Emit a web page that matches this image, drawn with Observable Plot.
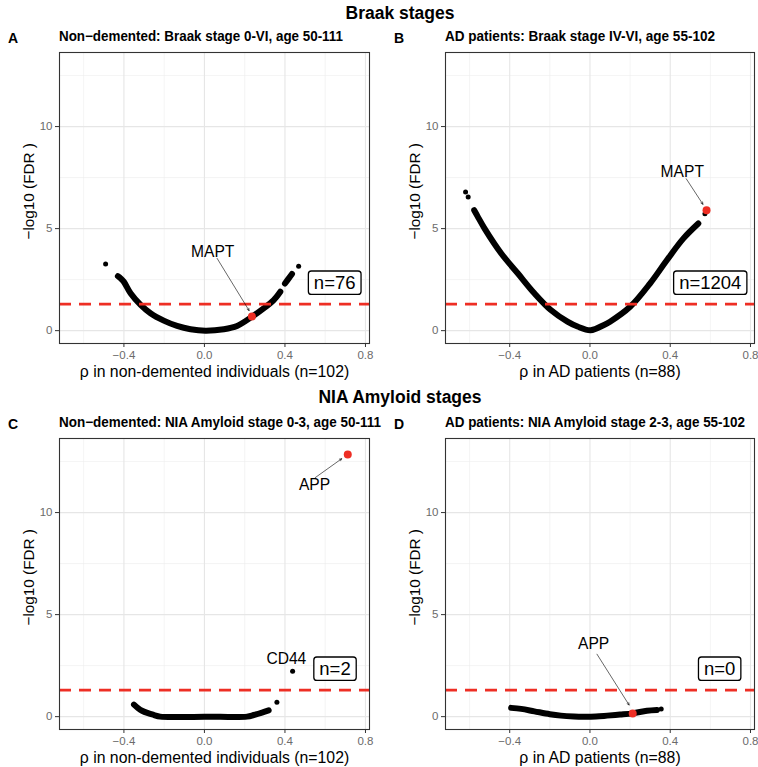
<!DOCTYPE html>
<html><head><meta charset="utf-8">
<script src="https://cdn.jsdelivr.net/npm/d3@7"></script>
<script src="https://cdn.jsdelivr.net/npm/@observablehq/plot@0.6"></script>
<style>
body{margin:0;background:#fff;}
#wrap{position:relative;width:758px;height:767px;overflow:hidden;background:#fff;}
#wrap svg{position:absolute;}
</style></head><body><div id="wrap"></div>
<script>
// ---------- shared axis values ----------
const xTicks = [-0.4, 0, 0.4, 0.8];
const xMinor = [-0.6, -0.2, 0.2, 0.6];
const yTicks = [0, 5, 10];
const yMinor = [2.5, 7.5, 12.5];
const fdrCut = [1.301];
const yTitle = "−log10 (FDR )";

// ---------- Panel A: Non-demented, Braak ----------
const aBandRho = [-0.43, -0.416, -0.40, -0.367, -0.317, -0.268, -0.202, -0.136, -0.069, 0.005, 0.096, 0.162, 0.236, 0.294, 0.344, 0.377, 0.40, 0.418, 0.435];
const aBandFdr = [2.67, 2.56, 2.39, 1.83, 1.26, 0.85, 0.49, 0.23, 0.07, 0.0, 0.07, 0.23, 0.68, 1.09, 1.50, 1.91, 2.31, 2.55, 2.78];
const aBandSeg = [1,1,1,1,1,1,1,1,1,1,1,1,1,1,1,1,2,2,2];
const aDotRho = [-0.491, 0.468];
const aDotFdr = [3.26, 3.16];
const aGene = ["MAPT"];
const aGeneRho = [0.236];
const aGeneFdr = [0.69];
const aCount = ["n=76"];

// ---------- Panel B: AD patients, Braak ----------
const bBandRho = [-0.577, -0.56, -0.525, -0.442, -0.359, -0.277, -0.195, -0.112, -0.062, 0.003, 0.07, 0.10, 0.20, 0.30, 0.383, 0.465, 0.54];
const bBandFdr = [5.90, 5.60, 5.00, 3.78, 2.80, 1.83, 1.01, 0.44, 0.20, 0.02, 0.28, 0.44, 1.17, 2.32, 3.45, 4.51, 5.25];
const bBandSeg = bBandRho.map(() => 1);
const bDotRho = [-0.620, -0.607, 0.573];
const bDotFdr = [6.79, 6.55, 5.73];
const bGene = ["MAPT"];
const bGeneRho = [0.581];
const bGeneFdr = [5.90];
const bCount = ["n=1204"];

// ---------- Panel C: Non-demented, NIA Amyloid ----------
const cBandRho = [-0.35, -0.33, -0.31, -0.28, -0.25, -0.22, 0.0, 0.212, 0.245, 0.286, 0.319];
const cBandFdr = [0.59, 0.42, 0.29, 0.17, 0.08, 0.0, 0.0, 0.0, 0.08, 0.20, 0.31];
const cBandSeg = cBandRho.map(() => 1);
const cDotRho = [0.36, 0.438];
const cDotFdr = [0.70, 2.22];
const cGene = ["APP"];
const cGeneRho = [0.712];
const cGeneFdr = [12.84];
const cCount = ["n=2"];

// ---------- Panel D: AD patients, NIA Amyloid ----------
const dBandRho = [-0.393, -0.343, -0.277, -0.20, -0.145, -0.08, -0.03, 0.03, 0.086, 0.15, 0.213, 0.284, 0.334];
const dBandFdr = [0.43, 0.38, 0.26, 0.12, 0.05, 0.01, 0.0, 0.01, 0.05, 0.10, 0.16, 0.29, 0.33];
const dBandSeg = dBandRho.map(() => 1);
const dDotRho = [0.355];
const dDotFdr = [0.38];
const dGene = ["APP"];
const dGeneRho = [0.213];
const dGeneFdr = [0.16];
const dCount = ["n=0"];

// ---------- layout / style config ----------
const RED = "#EE2E24";
const FONT = "'Liberation Sans', Arial, Helvetica, sans-serif";
const W = 379, H = 378;
const xDomain = [-0.72, 0.82], yDomain = [-0.63, 13.63];

const panels = [
  {letter:"A", left:0, top:0, mL:59, mR:10, subtitle:"Non−demented: Braak stage 0-VI, age 50-111", subW:284,
   xLabel:"ρ in non-demented individuals (n=102)",
   bandRho:aBandRho, bandFdr:aBandFdr, bandSeg:aBandSeg, dotRho:aDotRho, dotFdr:aDotFdr,
   gene:aGene, geneRho:aGeneRho, geneFdr:aGeneFdr, count:aCount,
   ann:[{t:"MAPT", tx:0.041, ty:3.86, x1:0.063, y1:3.54, x2:0.222, y2:0.98}], countX:0.778},
  {letter:"B", left:379, top:0, mL:66, mR:4, subtitle:"AD patients: Braak stage IV-VI, age 55-102", subW:270,
   xLabel:"ρ in AD patients (n=88)",
   bandRho:bBandRho, bandFdr:bBandFdr, bandSeg:bBandSeg, dotRho:bDotRho, dotFdr:bDotFdr,
   gene:bGene, geneRho:bGeneRho, geneFdr:bGeneFdr, count:bCount,
   ann:[{t:"MAPT", tx:0.46, ty:7.77, x1:0.48, y1:7.44, x2:0.563, y2:6.19}], countX:0.782},
  {letter:"C", left:0, top:386, mL:59, mR:10, subtitle:"Non−demented: NIA Amyloid stage 0-3, age 50-111", subW:322,
   xLabel:"ρ in non-demented individuals (n=102)",
   bandRho:cBandRho, bandFdr:cBandFdr, bandSeg:cBandSeg, dotRho:cDotRho, dotFdr:cDotFdr,
   gene:cGene, geneRho:cGeneRho, geneFdr:cGeneFdr, count:cCount,
   ann:[{t:"APP", tx:0.547, ty:11.34, x1:0.55, y1:11.71, x2:0.682, y2:12.64},
        {t:"CD44", tx:0.407, ty:2.82}], countX:0.754},
  {letter:"D", left:379, top:386, mL:66, mR:4, subtitle:"AD patients: NIA Amyloid stage 2-3, age 55-102", subW:300,
   xLabel:"ρ in AD patients (n=88)",
   bandRho:dBandRho, bandFdr:dBandFdr, bandSeg:dBandSeg, dotRho:dDotRho, dotFdr:dDotFdr,
   gene:dGene, geneRho:dGeneRho, geneFdr:dGeneFdr, count:dCount,
   ann:[{t:"APP", tx:0.018, ty:3.56, x1:0.035, y1:3.06, x2:0.195, y2:0.57}], countX:0.752}
];

const wrap = document.getElementById("wrap");

function makePanel(p) {
  const band = p.bandRho.map((r, i) => ({rho: r, fdr: p.bandFdr[i], seg: p.bandSeg[i]}));
  const dots = p.dotRho.map((r, i) => ({rho: r, fdr: p.dotFdr[i]}));
  const genes = p.gene.map((g, i) => ({gene: g, rho: p.geneRho[i], fdr: p.geneFdr[i]}));
  const arrows = p.ann.filter(a => a.x1 !== undefined);
  const svg = Plot.plot({
    width: W, height: H,
    marginLeft: p.mL, marginRight: p.mR, marginTop: 52, marginBottom: 35,
    style: {fontFamily: FONT, fontSize: "11.5px", background: "transparent", overflow: "visible"},
    x: {domain: xDomain},
    y: {domain: yDomain},
    marks: [
      Plot.ruleX(xMinor, {stroke: "#EDEDED", strokeWidth: 0.6}),
      Plot.ruleY(yMinor, {stroke: "#EDEDED", strokeWidth: 0.6}),
      Plot.ruleX(xTicks, {stroke: "#E6E6E6", strokeWidth: 1.1}),
      Plot.ruleY(yTicks, {stroke: "#E6E6E6", strokeWidth: 1.1}),
      Plot.line(band, {x: "rho", y: "fdr", z: "seg", stroke: "black", strokeWidth: 6,
        strokeLinecap: "round", strokeLinejoin: "round", curve: "catmull-rom"}),
      Plot.dot(dots, {x: "rho", y: "fdr", r: 2.5, fill: "black", stroke: null}),
      Plot.ruleY(fdrCut, {stroke: RED, strokeWidth: 2.6, strokeDasharray: "12 8"}),
      Plot.dot(genes, {x: "rho", y: "fdr", r: 4, fill: RED, stroke: null}),
      Plot.arrow(arrows, {x1: "x1", y1: "y1", x2: "x2", y2: "y2", stroke: "black", strokeWidth: 0.6,
        headLength: 6, headAngle: 50}),
      Plot.text(p.ann, {x: "tx", y: "ty", text: "t", fontSize: 15.6, fill: "black"}),
      Plot.text(p.count, {x: () => p.countX, y: () => 2.32, text: d => d, textAnchor: "end", dx: -5.5,
        fontSize: 18.5, fill: "black", className: "nlab"}),
      Plot.frame({stroke: "#333333", strokeWidth: 1.1}),
      Plot.axisX(xTicks, {tickSize: 4, tickPadding: 3.4, stroke: "#333333", fill: "#6B6B6B",
        tickFormat: d3.format(".1f"), label: null, fontSize: 11.5}),
      Plot.axisY(yTicks, {tickSize: 4, tickPadding: 3, stroke: "#333333", fill: "#6B6B6B",
        tickFormat: d => String(d), label: null, fontSize: 11.5}),
      Plot.text([p.xLabel], {text: d => d, frameAnchor: "bottom", lineAnchor: "middle", textAnchor: "middle",
        dy: 28, fontSize: 15.8, fill: "black"}),
      Plot.text([yTitle], {text: d => d, frameAnchor: "left", lineAnchor: "middle", textAnchor: "middle",
        rotate: -90, dx: -30.5, dy: -6.7, fontSize: 15.3, fill: "black"})
    ]
  });
  svg.style.left = p.left + "px";
  svg.style.top = p.top + "px";
  svg.style.maxWidth = "none";
  wrap.appendChild(svg);
  // rounded boxes behind the count labels
  svg.querySelectorAll("g.nlab text").forEach(t => {
    const bb = t.getBBox();
    const r = document.createElementNS("http://www.w3.org/2000/svg", "rect");
    r.setAttribute("x", bb.x - 5.5);
    r.setAttribute("y", bb.y + bb.height / 2 - 11.7);
    r.setAttribute("width", bb.width + 11);
    r.setAttribute("height", 23.4);
    r.setAttribute("rx", 3);
    r.setAttribute("fill", "white");
    r.setAttribute("stroke", "black");
    r.setAttribute("stroke-width", 1.3);
    const tr = t.getAttribute("transform");
    if (tr) r.setAttribute("transform", tr);
    t.parentNode.insertBefore(r, t);
  });
}
panels.forEach(makePanel);

// ---------- overlay titles ----------
const ov = d3.select(wrap).append("svg")
  .attr("width", 758).attr("height", 767)
  .style("left", "0px").style("top", "0px").style("pointer-events", "none");
const titles = [{t: "Braak stages", y: 18.5}, {t: "NIA Amyloid stages", y: 403}];
ov.selectAll("text.title").data(titles).join("text").attr("class", "title")
  .attr("x", 400).attr("y", d => d.y).attr("text-anchor", "middle")
  .style("font-family", FONT).style("font-weight", "bold").style("font-size", "17.5px")
  .text(d => d.t);
panels.forEach(p => {
  ov.append("text").attr("x", p.left === 0 ? 8 : 394).attr("y", p.top + 42.5)
    .style("font-family", FONT).style("font-weight", "bold").style("font-size", "14px")
    .text(p.letter);
  const st = ov.append("text").attr("x", p.left + p.mL).attr("y", p.top + 41.3)
    .style("font-family", "'Liberation Sans Narrow', 'Arial Narrow', " + FONT)
    .style("font-stretch", "condensed")
    .style("font-weight", "bold").style("font-size", "14px")
    .text(p.subtitle);
  const len = st.node().getComputedTextLength();
  if (Math.abs(len - p.subW) / p.subW > 0.03) {
    st.attr("textLength", p.subW).attr("lengthAdjust", "spacingAndGlyphs");
  }
});
</script>
</body></html>
